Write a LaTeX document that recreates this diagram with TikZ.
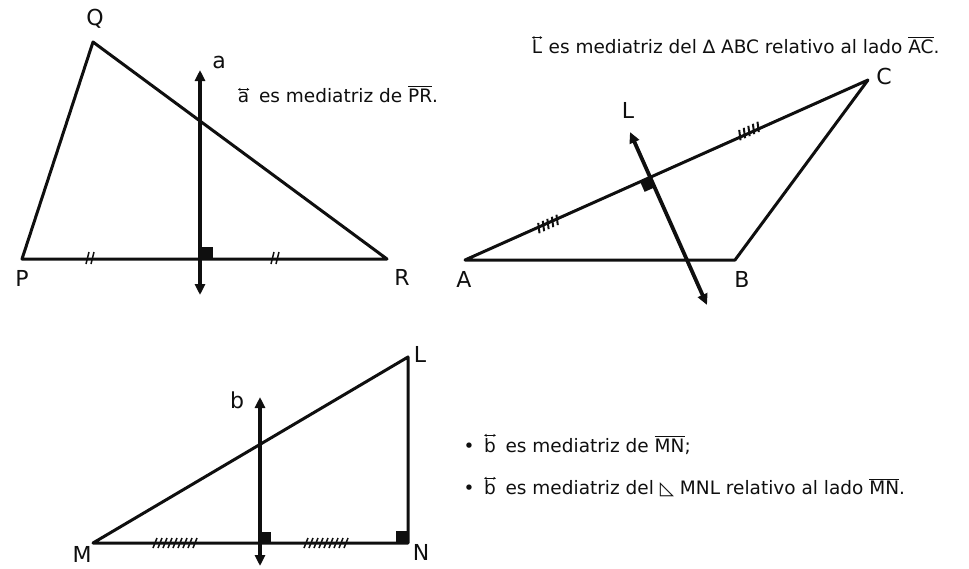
\documentclass[tikz,border=0pt]{standalone}
\usepackage{amsmath}
\usepackage{fontspec}
\setmainfont{DejaVu Sans}
\usetikzlibrary{arrows.meta,calc}
\definecolor{cink}{RGB}{15,15,15}
\newcommand{\lineover}[1]{\begin{tikzpicture}[baseline=(lt.base), x=1pt, y=1pt]
  \node[inner sep=0pt, outer sep=0pt] (lt) {#1};
  \draw[cink, line width=0.9pt, {Stealth[length=2.6pt,width=3pt]}-{Stealth[length=2.6pt,width=3pt]}]
    ([yshift=2.6pt]lt.north west) -- ([yshift=2.6pt]lt.north east);
\end{tikzpicture}}

\begin{document}
\begin{tikzpicture}[x=1pt,y=-1pt,
    side/.style={cink, line width=3pt, line join=round},
    perp/.style={cink, line width=3.8pt, {Triangle[length=11pt,width=10pt]}-{Triangle[length=11pt,width=10pt]}},
    vlabel/.style={font=\fontsize{22}{24}\selectfont, text=cink},
    note/.style={font=\fontsize{18.5}{21}\selectfont, text=cink, anchor=west},
    tick/.style={cink, line width=1.5pt}]
  \useasboundingbox (0,0) rectangle (969,568);
  % triangle PQR with mediatrix a
  \coordinate (P) at (22,259);
  \coordinate (Q) at (93,42);
  \coordinate (R) at (387,259);
  \draw[side] (P) -- (Q) -- (R) -- cycle;
  \fill[cink] (200,247) rectangle (213,259);
  \coordinate (a1) at (200,295);
  \coordinate (a2) at (200,70);
  \draw[perp] (a1) -- (a2);
  \foreach \x in {90,275}{
    \draw[tick] (\x-4,264) -- (\x-1,252) (\x+1,264) -- (\x+4,252);
  }
  \node[vlabel] (nP) at (22,278) {P};
  \node[vlabel] (nQ) at (95,19) {Q};
  \node[vlabel] (nR) at (402,277) {R};
  \node[vlabel] (na) at (219,62) {a};
  \node[note] (ta) at (234,94) {\lineover{a}\enspace es mediatriz de $\overline{\text{PR}}$.};
  % triangle ABC with mediatrix L
  \coordinate (A) at (465,260);
  \coordinate (B) at (735,260);
  \coordinate (C) at (868,80);
  \draw[side] (A) -- (B) -- (C) -- cycle;
  \coordinate (l1) at (707,305);
  \coordinate (l2) at (630,132);
  \coordinate (I) at (intersection of A--C and l1--l2);
  \coordinate (s1) at ($(I)!11pt!(A)$);
  \coordinate (s2) at ($(I)!11pt!(l1)$);
  \fill[cink] (I) -- (s1) -- ($(s1)+(s2)-(I)$) -- (s2) -- cycle;
  \draw[perp] (l1) -- (l2);
  \foreach \cx/\cy in {548/224,749/131}{
    \begin{scope}[shift={(\cx,\cy)}, rotate=24.07]
      \foreach \k in {-10,-5,0,5,10}
        \draw[tick, line width=2pt] (\k-1.5,5) -- (\k+1.5,-5);
    \end{scope}
  }
  \node[vlabel] (nA) at (464,279) {A};
  \node[vlabel] (nB) at (742,279) {B};
  \node[vlabel] (nC) at (884,76) {C};
  \node[vlabel] (nL) at (628,110) {L};
  \node[note] (tL) at (528,45) {\lineover{L} es mediatriz del ∆ ABC relativo al lado $\overline{\text{AC}}$.};
  % right triangle MNL with mediatrix b
  \coordinate (M) at (93,543);
  \coordinate (N) at (408,543);
  \coordinate (Lv) at (408,357);
  \draw[side] (M) -- (N) -- (Lv) -- cycle;
  \fill[cink] (260,532) rectangle (271,543);
  \fill[cink] (396,531) rectangle (408,543);
  \coordinate (b1) at (260,566);
  \coordinate (b2) at (260,397);
  \draw[perp] (b1) -- (b2);
  \foreach \x in {155,160,...,198,306,311,...,349}
    \draw[tick] (\x-2,548) -- (\x+2,538);
  \node[vlabel] (nM) at (82,554) {M};
  \node[vlabel] (nN) at (421,552) {N};
  \node[vlabel] (nLv) at (420,354) {L};
  \node[vlabel] (nb) at (237,400) {b};
  \node[note] (tb1) at (460,444) {•\enspace\lineover{b}\enspace es mediatriz de $\overline{\text{MN}}$;};
  \node[note] (tb2) at (460,487) {•\enspace\lineover{b}\enspace es mediatriz del ◺ MNL relativo al lado $\overline{\text{MN}}$.};
\end{tikzpicture}
\end{document}
